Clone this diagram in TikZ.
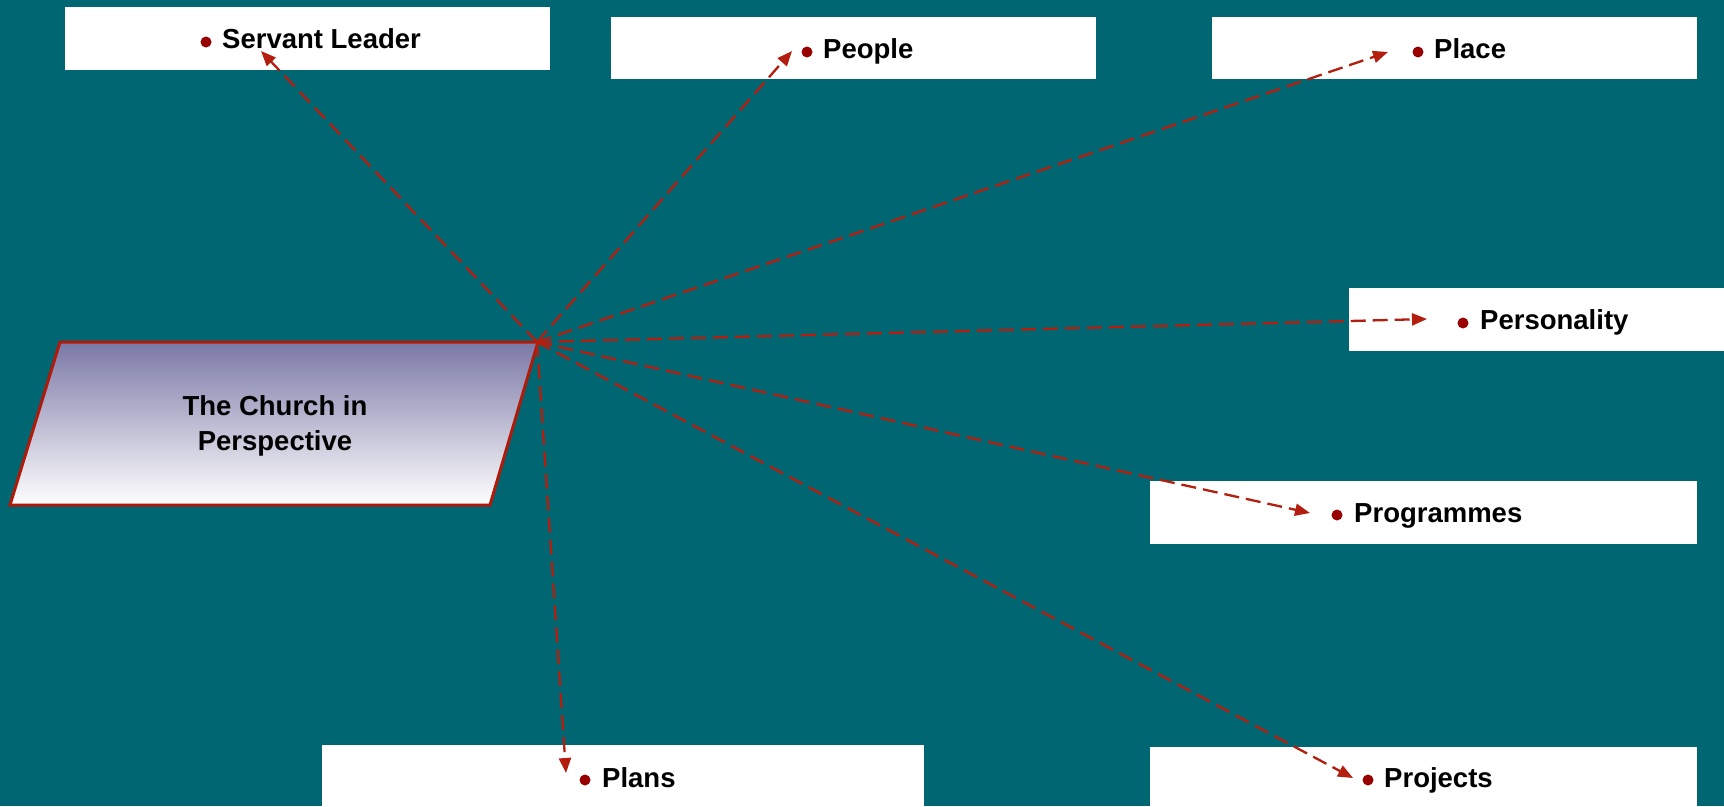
\documentclass[tikz,border=0pt]{standalone}
\usepackage{fontspec}
\setmainfont{Liberation Sans}
\usetikzlibrary{arrows.meta}
\definecolor{bg}{HTML}{006672}
\definecolor{arrowred}{HTML}{B31E0E}
\definecolor{bulletred}{HTML}{990000}
\definecolor{borderred}{HTML}{B01A0A}
\definecolor{shadetop}{HTML}{7A78A6}
\tikzset{
  labelbox/.style={fill=white, draw=none},
  itemtext/.style={anchor=base west, inner sep=0pt, font=\fontsize{27.5}{33}\selectfont\bfseries, text=black},
  bulletdot/.style={circle, fill=bulletred, inner sep=0pt, minimum size=11pt},
  linkarrow/.style={draw=arrowred, line width=2.3pt, dash pattern=on 15pt off 7pt,
    -{Triangle[length=15pt,width=12pt]}},
}
\begin{document}
\begin{tikzpicture}[x=1pt,y=-1pt]
\fill[bg] (0,0) rectangle (1724,806);
\useasboundingbox (0,0) rectangle (1724,806);
% label boxes
\fill[labelbox] (65,7) rectangle (550,70);
\fill[labelbox] (611,17) rectangle (1096,79);
\fill[labelbox] (1212,17) rectangle (1697,79);
\fill[labelbox] (1349,288) rectangle (1724,351);
\fill[labelbox] (1150,481) rectangle (1697,544);
\fill[labelbox] (322,745) rectangle (924,806);
\fill[labelbox] (1150,747) rectangle (1697,806);
% central parallelogram
\shade[top color=shadetop, bottom color=white] (60,342) -- (538,342) -- (490,505) -- (10,505) -- cycle;
\draw[borderred, line width=3pt, line join=miter] (60,342) -- (538,342) -- (490,505) -- (10,505) -- cycle;
\node[align=center, inner sep=0pt, font=\fontsize{27.5}{35}\selectfont\bfseries] (church) at (275,426) {The Church in\\Perspective};
\coordinate (hub) at (537,342);
% bullets and texts
\node[bulletdot] (b1) at (206,42) {};
\node[itemtext] (t1) at (222,48) {Servant Leader};
\node[bulletdot] (b2) at (807,52) {};
\node[itemtext] (t2) at (823,58) {People};
\node[bulletdot] (b3) at (1418,52) {};
\node[itemtext] (t3) at (1434,58) {Place};
\node[bulletdot] (b4) at (1463,323) {};
\node[itemtext] (t4) at (1480,329) {Personality};
\node[bulletdot] (b5) at (1337,515) {};
\node[itemtext] (t5) at (1354,522) {Programmes};
\node[bulletdot] (b6) at (585,780) {};
\node[itemtext] (t6) at (602,787) {Plans};
\node[bulletdot] (b7) at (1368,780) {};
\node[itemtext] (t7) at (1384,787) {Projects};
% arrow tips
\coordinate (a1) at (261,51);
\coordinate (a2) at (792,51);
\coordinate (a3) at (1388,52);
\coordinate (a4) at (1427,319);
\coordinate (a5) at (1310,513);
\coordinate (a6) at (566,773);
\coordinate (a7) at (1353,778);
\foreach \i in {1,...,7} {\draw[linkarrow] (hub) -- (a\i);}
\end{tikzpicture}
\end{document}
